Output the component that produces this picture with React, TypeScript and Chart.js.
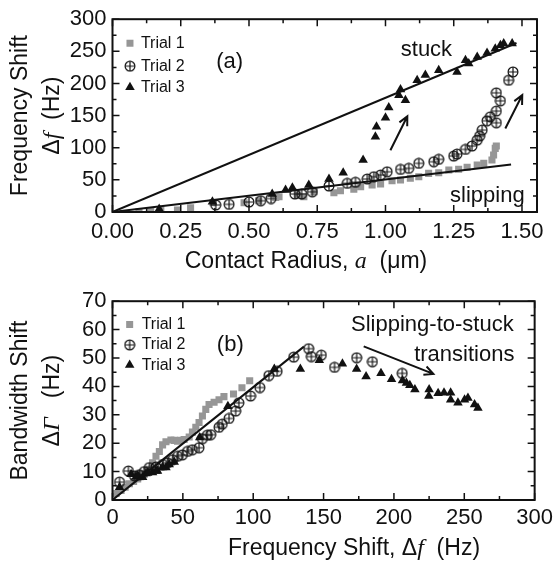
import { useEffect, useRef } from 'react';
import { Chart, ChartConfiguration, registerables } from 'chart.js';

Chart.register(...registerables);

// ---- panel (a): contact radius (um) vs frequency shift (Hz) ----
const a1X = [0.097, 0.14, 0.177, 0.238, 0.286, 0.368, 0.482, 0.536, 0.598, 0.61, 0.677, 0.701, 0.738, 0.811, 0.835, 0.884, 0.909, 0.951, 0.982, 1.024, 1.055, 1.091, 1.122, 1.158, 1.195, 1.232, 1.268, 1.299, 1.336, 1.36, 1.39, 1.396, 1.402, 1.406];
const a1Y = [0.5, 1, 3.1, 3.1, 6.7, 14.5, 14.5, 17.6, 22.8, 23.8, 26.4, 23.8, 31.5, 30, 33.1, 35.3, 39.3, 42, 43.5, 48.6, 49.7, 52.4, 54.9, 60.1, 61.1, 65.3, 66.4, 69.5, 73, 75.7, 80.8, 88.6, 99, 102.6];

const a2X = [0.378, 0.427, 0.5, 0.543, 0.581, 0.668, 0.693, 0.732, 0.793, 0.86, 0.89, 0.933, 0.957, 0.982, 1.006, 1.055, 1.085, 1.122, 1.177, 1.195, 1.25, 1.262, 1.293, 1.317, 1.336, 1.345, 1.354, 1.372, 1.384, 1.406, 1.406, 1.421, 1.406, 1.451, 1.467];
const a2Y = [10.9, 11.9, 15.5, 17.6, 21, 28, 28, 31.5, 40.4, 44.6, 46.2, 51.3, 54.9, 57.5, 62.6, 66.3, 67.9, 75.7, 78.2, 81.9, 87, 90.1, 97.4, 102.6, 111.9, 118.1, 127.4, 141.9, 148.1, 138.8, 157, 173, 185.4, 205, 218];

const a3X = [0.171, 0.366, 0.585, 0.634, 0.659, 0.719, 0.793, 0.845, 0.918, 0.963, 0.967, 1.0, 1.012, 1.049, 1.055, 1.073, 1.116, 1.146, 1.195, 1.262, 1.293, 1.305, 1.336, 1.372, 1.402, 1.421, 1.433, 1.464];
const a3Y = [4.7, 16, 28, 34.2, 37.8, 42, 51.3, 61, 80.8, 117, 132.6, 146.7, 162.7, 181.8, 190.7, 174, 205, 213, 220.7, 218, 236, 231, 241, 247.6, 254, 259.5, 262, 262];

const aFitX = [0, 1.48];
const aStuckY = [0, 263];
const aSlipX = [0, 1.46];
const aSlipY = [0, 74];

const aXTicks = [0, 0.25, 0.5, 0.75, 1.0, 1.25, 1.5];
const aYTicks = [0, 50, 100, 150, 200, 250, 300];

// ---- panel (b): frequency shift (Hz) vs bandwidth shift (Hz) ----
const b1X = [2.6, 6.1, 9, 12, 15, 17.9, 20, 22.6, 26.2, 28.5, 30.9, 33.3, 35.6, 38, 41.5, 44, 46.2, 48.5, 50.9, 54.5, 56.8, 59.2, 61.5, 63.9, 66.3, 68.6, 72.2, 75.7, 79.2, 86, 92, 97.5];
const b1Y = [2.3, 3.4, 4.5, 5.7, 6.5, 7.4, 8.2, 9.1, 10.8, 13.1, 15.4, 17.1, 19.4, 20.5, 21.1, 21, 20.7, 21, 21.3, 22.2, 23.9, 25.6, 27.3, 29.6, 31.9, 33.6, 34.4, 35.3, 36.4, 37.3, 39.5, 42];

const b2X = [5, 11.3, 15.6, 19.1, 22.6, 26.2, 30.9, 35.6, 39.1, 42.7, 46.2, 49.7, 53.3, 56.8, 61.5, 63.9, 67.4, 69.8, 75.7, 78, 82.8, 87.5, 89.8, 98.1, 104.7, 111.1, 117, 128.8, 139.4, 141.3, 148.4, 157.8, 173.5, 184.7, 205.9];
const b2Y = [6.3, 10.2, 8.5, 8.9, 10, 11.4, 11.6, 12.5, 13.1, 14.2, 15.4, 15.9, 17.1, 17.7, 18.4, 21.6, 22.8, 23, 25.6, 26.7, 28.7, 31.3, 34.2, 36.6, 39.6, 43.8, 45.3, 50.3, 53.3, 50.5, 51, 46.7, 50.1, 48.7, 44.6];

const b3X = [5, 13.2, 16.7, 17.9, 21.4, 23.8, 25, 28.5, 30.9, 32, 35.6, 38, 40.3, 43.9, 62, 82, 115, 133.5, 147, 163.4, 173.5, 180.2, 190.8, 198.3, 206.1, 208.9, 211.3, 214.9, 224.8, 225, 231.4, 235.6, 240.3, 240.3, 245.5, 250.2, 252.6, 257.3, 259.7];
const b3Y = [4.5, 9.1, 8.2, 8.5, 8, 9.3, 9.5, 9.7, 10.2, 10.2, 11.4, 11.4, 12.5, 13.4, 22, 33, 46.1, 46.1, 49.2, 48, 46.1, 43.5, 44.6, 42.5, 42.1, 41.2, 40.4, 38.9, 36.6, 38.9, 37.6, 37.8, 37.8, 35.3, 34.2, 35.3, 35.9, 33.6, 32.4];

const bFitX = [0, 136];
const bFitY = [0, 54];

const bXTicks = [0, 50, 100, 150, 200, 250, 300];
const bYTicks = [0, 10, 20, 30, 40, 50, 60, 70];

const trialNames = ['Trial 1', 'Trial 2', 'Trial 3'];

const SANS = "'Liberation Sans', Arial, sans-serif";
const SERIF = "'Liberation Serif', 'Times New Roman', serif";
const INK = '#111';
const GRAY = 'rgb(150,150,150)';

const pts = (xs: number[], ys: number[]) => xs.map((x, i) => ({ x, y: ys[i] }));
const mids = (t: number[]) => t.slice(1).map((v, i) => (v + t[i]) / 2);

function circlePlus() {
    const c = document.createElement('canvas');
    c.width = 12;
    c.height = 12;
    const g = c.getContext('2d')!;
    g.strokeStyle = INK;
    g.lineWidth = 1.2;
    g.beginPath();
    g.arc(6, 6, 4.9, 0, Math.PI * 2);
    g.stroke();
    g.beginPath();
    g.moveTo(1.2, 6); g.lineTo(10.8, 6);
    g.moveTo(6, 1.2); g.lineTo(6, 10.8);
    g.stroke();
    return c;
}

type Seg = [string, string];

// draw mixed-font text centred on (x, y)
function segs(ctx: CanvasRenderingContext2D, parts: Seg[], x: number, y: number) {
    let w = 0;
    parts.forEach(([t, f]) => { ctx.font = f; w += ctx.measureText(t).width; });
    let cx = x - w / 2;
    ctx.textAlign = 'left';
    ctx.textBaseline = 'middle';
    parts.forEach(([t, f]) => { ctx.font = f; ctx.fillText(t, cx, y); cx += ctx.measureText(t).width; });
}

function arrow(ctx: CanvasRenderingContext2D, x0: number, y0: number, x1: number, y1: number) {
    const ang = Math.atan2(y1 - y0, x1 - x0);
    const h = 10;
    ctx.beginPath();
    ctx.moveTo(x0, y0);
    ctx.lineTo(x1, y1);
    ctx.moveTo(x1 - h * Math.cos(ang - 0.45), y1 - h * Math.sin(ang - 0.45));
    ctx.lineTo(x1, y1);
    ctx.lineTo(x1 - h * Math.cos(ang + 0.45), y1 - h * Math.sin(ang + 0.45));
    ctx.stroke();
}

function legendMarker(ctx: CanvasRenderingContext2D, kind: number, x: number, y: number, img: HTMLCanvasElement) {
    if (kind === 0) {
        ctx.fillStyle = GRAY;
        ctx.fillRect(x - 3.5, y - 3.5, 7, 7);
    } else if (kind === 1) {
        ctx.drawImage(img, x - 6, y - 6);
    } else {
        const r = 5.5;
        ctx.fillStyle = INK;
        ctx.beginPath();
        ctx.moveTo(x, y - r);
        ctx.lineTo(x + r * 0.866, y + r / 2);
        ctx.lineTo(x - r * 0.866, y + r / 2);
        ctx.closePath();
        ctx.fill();
    }
}

interface PanelDeco {
    xTicks: number[];
    yTicks: number[];
    yTitle: Seg[][];
    xTitle: Seg[];
    xTitlePos: [number, number];
    legend: { x: number; y: number[]; textX: number };
    labels: { text: string; x: number; y: number }[];
    arrows: number[][];
}

function decoPlugin(d: PanelDeco, img: HTMLCanvasElement) {
    return {
        id: 'deco',
        afterDraw(chart: Chart) {
            const { ctx, chartArea: ca } = chart;
            const sx = chart.scales.x;
            const sy = chart.scales.y;
            ctx.save();
            ctx.strokeStyle = INK;
            ctx.fillStyle = INK;
            ctx.lineWidth = 2;
            ctx.strokeRect(ca.left, ca.top, ca.right - ca.left, ca.bottom - ca.top);

            // inward ticks on all four sides
            ctx.lineWidth = 1.5;
            ctx.beginPath();
            const xt = (v: number, len: number) => {
                const p = sx.getPixelForValue(v);
                ctx.moveTo(p, ca.bottom); ctx.lineTo(p, ca.bottom - len);
                ctx.moveTo(p, ca.top); ctx.lineTo(p, ca.top + len);
            };
            const yt = (v: number, len: number) => {
                const p = sy.getPixelForValue(v);
                ctx.moveTo(ca.left, p); ctx.lineTo(ca.left + len, p);
                ctx.moveTo(ca.right, p); ctx.lineTo(ca.right - len, p);
            };
            d.xTicks.forEach(v => xt(v, 7));
            mids(d.xTicks).forEach(v => xt(v, 4));
            d.yTicks.forEach(v => yt(v, 7));
            mids(d.yTicks).forEach(v => yt(v, 4));
            ctx.stroke();

            // axis titles
            const my = (ca.top + ca.bottom) / 2;
            d.yTitle.forEach((line, i) => {
                ctx.save();
                ctx.translate(i === 0 ? 21 : 53, my);
                ctx.rotate(-Math.PI / 2);
                segs(ctx, line, 0, 0);
                ctx.restore();
            });
            segs(ctx, d.xTitle, d.xTitlePos[0], d.xTitlePos[1]);

            // legend
            trialNames.forEach((name, i) => {
                const lx = sx.getPixelForValue(d.legend.x);
                const ly = sy.getPixelForValue(d.legend.y[i]);
                legendMarker(ctx, i, lx, ly, img);
                ctx.fillStyle = INK;
                ctx.font = `16px ${SANS}`;
                ctx.textAlign = 'left';
                ctx.textBaseline = 'middle';
                ctx.fillText(name, sx.getPixelForValue(d.legend.textX), ly);
            });

            // annotations
            ctx.fillStyle = INK;
            ctx.font = `22px ${SANS}`;
            ctx.textAlign = 'center';
            ctx.textBaseline = 'middle';
            d.labels.forEach(l => ctx.fillText(l.text, sx.getPixelForValue(l.x), sy.getPixelForValue(l.y)));
            ctx.lineWidth = 2;
            d.arrows.forEach(([x0, y0, x1, y1]) =>
                arrow(ctx, sx.getPixelForValue(x0), sy.getPixelForValue(y0), sx.getPixelForValue(x1), sy.getPixelForValue(y1)));
            ctx.restore();
        },
    };
}

function scatterConfig(
    series: { x: number[]; y: number[] }[],
    fits: { x: number[]; y: number[] }[],
    img: HTMLCanvasElement,
    xr: [number, number], yr: [number, number],
    xTicks: number[], yTicks: number[],
    fmt: (v: number) => string,
    xAxisH: number, xPad: number, pad: { top: number; right: number },
    deco: PanelDeco,
): ChartConfiguration {
    const tickFont = { family: SANS, size: 22 };
    const styles: any[] = [
        { pointStyle: 'rect', pointRadius: 5, backgroundColor: GRAY, borderColor: GRAY, borderWidth: 0, order: 3 },
        { pointStyle: img, pointRadius: 6, backgroundColor: 'rgba(0,0,0,0)', borderColor: INK, borderWidth: 0, order: 2 },
        { pointStyle: 'triangle', pointRadius: 5.5, backgroundColor: INK, borderColor: INK, borderWidth: 0, order: 1 },
    ];
    return {
        type: 'scatter',
        data: {
            datasets: [
                ...series.map((s, i) => ({ label: trialNames[i], data: pts(s.x, s.y), ...styles[i] })),
                ...fits.map(f => ({
                    data: pts(f.x, f.y), showLine: true, borderColor: INK, borderWidth: 2,
                    pointRadius: 0, order: 0,
                })),
            ],
        },
        options: {
            responsive: false,
            animation: false,
            events: [],
            layout: { padding: { left: 0, top: pad.top, right: pad.right, bottom: 0 } },
            plugins: { legend: { display: false }, tooltip: { enabled: false } },
            scales: {
                x: {
                    type: 'linear', min: xr[0], max: xr[1],
                    grid: { display: false, drawTicks: false },
                    border: { display: false },
                    ticks: { padding: xPad, autoSkip: false, maxRotation: 0, font: tickFont, color: INK, callback: (v: any) => fmt(Number(v)) },
                    afterBuildTicks: (s: any) => { s.ticks = xTicks.map(v => ({ value: v })); },
                    afterFit: (s: any) => { s.height = xAxisH; },
                },
                y: {
                    type: 'linear', min: yr[0], max: yr[1],
                    grid: { display: false, drawTicks: false },
                    border: { display: false },
                    ticks: { padding: 6, autoSkip: false, font: tickFont, color: INK },
                    afterBuildTicks: (s: any) => { s.ticks = yTicks.map(v => ({ value: v })); },
                    afterFit: (s: any) => { s.width = 112.5; },
                },
            },
        } as any,
        plugins: [decoPlugin(deco, img)],
    } as ChartConfiguration;
}

const T23 = `23px ${SANS}`;
const I23 = `italic 24px ${SERIF}`;

export default function App() {
    const refA = useRef<HTMLCanvasElement | null>(null);
    const refB = useRef<HTMLCanvasElement | null>(null);

    useEffect(() => {
        const img = circlePlus();
        const charts: Chart[] = [];
        if (refA.current) {
            charts.push(new Chart(refA.current, scatterConfig(
                [{ x: a1X, y: a1Y }, { x: a2X, y: a2Y }, { x: a3X, y: a3Y }],
                [{ x: aFitX, y: aStuckY }, { x: aSlipX, y: aSlipY }],
                img, [0, 1.555], [0, 300], aXTicks, aYTicks, v => v.toFixed(2), 70, 7, { top: 19, right: 21 },
                {
                    xTicks: aXTicks, yTicks: aYTicks,
                    yTitle: [[['Frequency Shift', T23]], [['\u0394', T23], ['f', I23], ['  (Hz)', T23]]],
                    xTitle: [['Contact Radius, ', T23], ['a', I23], ['  (\u03bcm)', T23]],
                    xTitlePos: [306, 262],
                    legend: { x: 0.064, y: [262.6, 226.9, 194.3], textX: 0.104 },
                    labels: [
                        { text: '(a)', x: 0.429, y: 233 },
                        { text: 'stuck', x: 1.15, y: 252 },
                        { text: 'slipping', x: 1.373, y: 25 },
                    ],
                    arrows: [[1.018, 96, 1.08, 149], [1.439, 130, 1.501, 182]],
                },
            )));
        }
        if (refB.current) {
            charts.push(new Chart(refB.current, scatterConfig(
                [{ x: b1X, y: b1Y }, { x: b2X, y: b2Y }, { x: b3X, y: b3Y }],
                [{ x: bFitX, y: bFitY }],
                img, [0, 300], [0, 70], bXTicks, bYTicks, v => String(v), 65, 5, { top: 13, right: 21 },
                {
                    xTicks: bXTicks, yTicks: bYTicks,
                    yTitle: [[['Bandwidth Shift', T23]], [['\u0394', T23], ['\u0393', I23], ['   (Hz)', T23]]],
                    xTitle: [['Frequency Shift, ', T23], ['\u0394', T23], ['f', I23], ['  (Hz)', T23]],
                    xTitlePos: [354, 267],
                    legend: { x: 12.2, y: [61.8, 54.6, 47.5], textX: 20.7 },
                    labels: [
                        { text: '(b)', x: 83.7, y: 54.6 },
                        { text: 'Slipping-to-stuck', x: 227.3, y: 61.5 },
                        { text: 'transitions', x: 250, y: 51.2 },
                    ],
                    arrows: [[178.5, 54.1, 228, 44.4]],
                },
            )));
        }
        return () => charts.forEach(c => c.destroy());
    }, []);

    return (
        <div style={{ position: 'absolute', left: 0, top: 0, width: 558, height: 565, background: '#fff' }}>
            <canvas ref={refA} width={558} height={282} style={{ position: 'absolute', left: 0, top: 0, width: 558, height: 282 }} />
            <canvas ref={refB} width={558} height={283} style={{ position: 'absolute', left: 0, top: 282, width: 558, height: 283 }} />
        </div>
    );
}
